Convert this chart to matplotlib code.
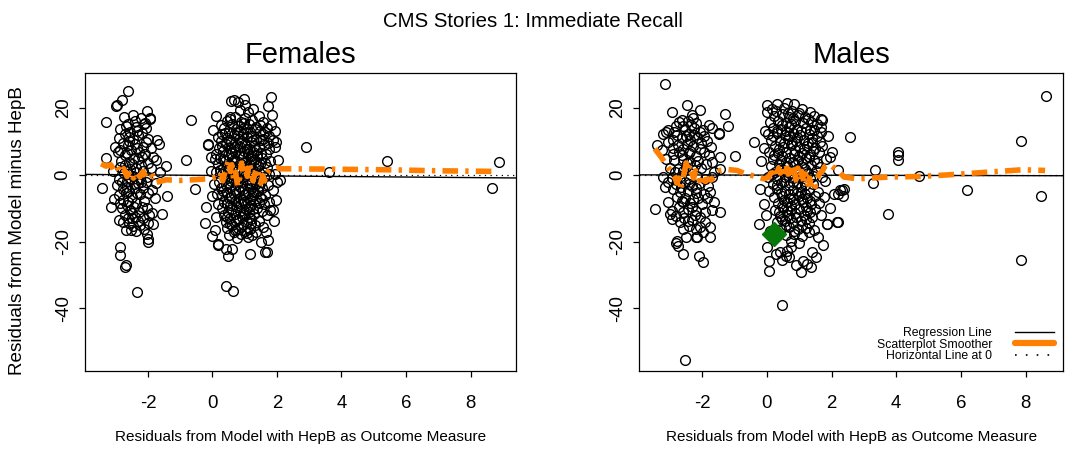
import matplotlib.pyplot as plt
from matplotlib.lines import Line2D

plt.rcParams['font.family'] = ['Liberation Sans', 'DejaVu Sans']
plt.rcParams['axes.unicode_minus'] = False

# -------------------------
# Data: (residual HepB model, residual outcome minus HepB)
# -------------------------

fem_left = [
    (-2.62, 25.1), (-2.81, 22.3), (-2.95, 21.0), (-3.00, 20.5), (-3.29, 15.8),
    (-2.02, 19.1), (-1.95, 17.0), (-2.08, 15.5), (-1.71, 10.3), (-1.67, 9.3),
    (-3.31, 5.1), (-1.45, 2.6), (-1.76, 4.3), (-3.43, -3.9), (-1.41, -6.4),
    (-3.14, -9.7), (-1.57, -11.9), (-2.91, -13.5), (-1.84, -14.9), (-2.48, -13.0),
    (-2.69, -16.5), (-2.52, -16.5), (-2.02, -17.9), (-1.99, -19.2), (-2.01, -20.2),
    (-2.88, -21.7), (-2.86, -24.0), (-2.67, -27.0), (-2.70, -27.7), (-2.33, -35.0),
    (-2.85, 13.8), (-2.36, 14.3), (-2.12, 15.3), (-2.05, 14.1), (-1.94, 16.8),
    (-2.62, 15.3), (-2.54, 12.8), (-2.20, 16.9), (-2.74, 17.4), (-2.47, 17.9),
    (-2.72, 12.3), (-2.31, 11.8), (-2.00, 10.8), (-2.45, 10.6), (-2.18, 12.6),
    (-2.91, 11.1), (-2.60, 11.2), (-3.03, 8.3), (-2.62, 8.8), (-2.41, 9.3),
    (-2.15, 8.3), (-2.78, 9.6), (-2.52, 7.4), (-2.27, 6.9), (-1.90, 8.1),
    (-2.06, 9.7), (-2.93, 6.8), (-2.10, 6.3), (-1.84, 5.3), (-2.70, 5.9),
    (-2.44, 5.1), (-2.60, 3.9), (-2.31, 4.6), (-1.99, 3.4), (-2.83, 4.2),
    (-2.18, 5.2), (-2.86, 2.4), (-2.55, 1.6), (-2.36, 2.1), (-2.14, 1.1),
    (-1.91, 1.9), (-2.74, 0.4), (-2.02, -0.6), (-1.62, 0.9), (-3.08, 1.2),
    (-2.47, -0.3), (-2.25, -0.9), (-2.80, -2.1), (-2.56, -1.4), (-2.31, -2.6),
    (-2.06, -2.1), (-1.76, -2.4), (-2.96, -3.1), (-2.64, -3.6), (-2.41, -4.1),
    (-2.16, -3.9), (-1.88, -4.6), (-2.90, -6.1), (-2.69, -5.4), (-2.49, -6.6),
    (-2.26, -5.9), (-2.01, -5.6), (-1.79, -7.1), (-2.61, -8.1), (-2.36, -8.4),
    (-2.11, -7.9), (-3.04, -7.4), (-2.78, -7.6), (-2.81, -9.9), (-2.56, -10.6),
    (-2.29, -11.1), (-2.04, -9.9), (-1.86, -11.4), (-2.70, -12.1), (-2.41, -12.6),
    (-2.14, -13.1), (-1.96, -12.0), (-2.87, -8.6), (-2.44, -9.6), (-2.59, -14.4),
    (-2.24, -15.1), (-2.00, -14.6), (-2.36, -17.0), (-2.76, -14.1), (-2.13, -16.3),
    (-2.68, 14.7), (-2.40, 16.0), (-2.58, 10.0), (-2.33, 13.2), (-2.85, 7.5),
    (-2.35, 8.0), (-2.65, 6.6), (-2.20, 3.0), (-2.48, 3.2), (-2.72, 2.9),
    (-2.62, 0.2), (-2.38, 0.8), (-2.90, -1.2), (-2.66, -1.9), (-2.44, -2.8),
    (-2.20, -2.2), (-2.58, -4.8), (-2.34, -5.4), (-2.76, -4.4), (-2.66, -9.2),
    (-2.18, -9.6), (-2.50, -11.6), (-2.30, -14.0), (-2.46, -15.3), (-2.62, -12.9),
]

fem_right = [
    (0.57, 22.0), (0.78, 21.8), (0.98, 22.8), (1.81, 23.3), (1.71, 20.6),
    (1.26, 19.6), (1.11, 18.8), (0.85, 19.3), (0.54, 17.3), (0.26, 14.8),
    (1.81, 14.8), (-0.13, 8.8), (0.18, 11.3), (1.88, 10.3), (1.93, 8.3),
    (-0.03, 5.3), (0.18, -21.0), (0.49, -24.4), (0.61, -22.2), (1.16, -23.7),
    (1.63, -23.0), (1.52, -20.2), (1.67, -17.2), (1.88, -10.7), (1.88, -4.7),
    (1.93, 0.3), (0.43, -33.2), (0.64, -34.7), (0.66, 22.5), (1.00, 20.8),
    (0.12, 6.3), (0.07, 4.8), (0.14, -5.7), (0.18, -8.7), (0.12, -12.7),
    (0.16, -20.7), (0.43, -22.2), (1.68, -23.2), (1.99, -2.2), (1.97, 9.8),
    (1.78, -10.7), (0.02, 13.5), (0.05, -2.8), (-0.02, -6.5), (0.08, -16.5),
    (1.95, 13.0), (2.02, 4.5), (1.97, -7.5), (1.92, -14.0), (0.10, 17.5),
    (1.85, 18.0), (0.00, -18.5), (1.72, -19.5),
    (0.70, 17.2), (1.02, 16.9), (1.43, 17.6), (0.46, 16.1), (0.88, 15.8),
    (1.24, 16.3), (1.58, 15.9), (0.61, 15.1), (0.79, 14.6), (1.12, 15.2),
    (1.49, 14.8), (0.36, 13.9), (0.72, 13.7), (0.97, 14.1), (1.31, 13.6),
    (1.69, 13.9), (0.51, 12.9), (0.86, 13.1), (1.16, 12.8), (1.46, 13.2),
    (0.29, 12.1), (0.66, 11.9), (0.94, 12.3), (1.21, 11.7), (1.56, 12.2),
    (1.76, 11.6), (0.44, 11.0), (0.81, 10.8), (1.06, 11.2), (1.36, 10.7),
    (0.26, 10.1), (0.59, 9.8), (0.91, 10.2), (1.19, 9.9), (1.51, 10.3),
    (1.71, 9.6), (0.41, 9.1), (0.76, 8.8), (1.01, 9.3), (1.29, 8.7),
    (1.61, 9.0), (0.21, 8.1), (0.56, 7.9), (0.84, 8.2), (1.14, 7.8),
    (1.44, 8.3), (1.74, 7.7), (0.34, 7.1), (0.69, 6.8), (0.99, 7.2),
    (1.26, 6.9), (0.49, 6.0), (0.82, 5.8), (1.11, 6.2), (1.39, 5.9),
    (1.66, 6.1), (0.24, 5.1), (0.61, 4.9), (0.94, 5.2), (1.21, 4.8),
    (1.54, 5.1), (0.39, 4.1), (0.74, 3.9), (1.04, 4.2), (1.34, 3.8),
    (1.79, 4.0), (0.16, 3.1), (0.54, 2.9), (0.89, 3.2), (1.16, 2.8),
    (1.49, 3.1), (0.33, 2.0), (0.71, 1.8), (1.01, 2.1), (1.31, 1.9),
    (1.69, 2.2), (0.11, 0.9), (0.49, 1.1), (0.86, 0.8), (1.19, 1.2),
    (1.56, 0.9), (0.29, 0.1), (0.64, -0.2), (0.96, 0.2), (1.39, -0.1),
    (1.76, 0.1), (0.46, -1.1), (0.79, -0.9), (1.09, -1.2), (1.61, -0.8),
    (0.21, -2.1), (0.59, -1.9), (0.91, -2.2), (1.24, -1.8), (1.51, -2.1),
    (0.41, -3.1), (0.76, -2.9), (1.06, -3.2), (1.36, -2.8), (1.71, -3.0),
    (0.26, -4.1), (0.56, -3.8), (0.94, -4.2), (1.19, -3.9), (1.54, -4.1),
    (0.44, -5.1), (0.81, -4.9), (1.11, -5.2), (1.41, -4.8), (0.31, -6.1),
    (0.66, -5.9), (1.01, -6.2), (1.26, -5.8), (1.64, -6.0), (0.51, -7.1),
    (0.86, -6.9), (1.16, -7.2), (1.49, -6.8), (0.36, -8.1), (0.71, -7.8),
    (0.99, -8.2), (1.31, -7.9), (1.74, -8.1), (0.54, -9.1), (0.89, -8.8),
    (1.21, -9.2), (1.59, -8.9), (0.31, -10.1), (0.76, -9.8), (1.04, -10.2),
    (1.39, -9.9), (0.49, -11.1), (0.84, -10.8), (1.14, -11.2), (1.54, -10.9),
    (0.36, -12.1), (0.69, -11.9), (0.99, -12.2), (1.29, -11.8), (1.69, -12.0),
    (0.56, -13.1), (0.91, -12.8), (1.21, -13.2), (0.41, -14.1), (0.74, -13.9),
    (1.06, -14.2), (1.44, -13.8), (0.61, -15.1), (0.96, -14.8), (1.31, -15.2),
    (0.46, -16.1), (0.79, -15.9), (1.16, -16.2), (1.56, -15.8), (0.66, -17.1),
    (1.01, -16.8), (1.36, -17.2), (0.51, -18.1), (0.89, -17.9), (1.24, -18.2),
    (0.76, -19.1), (1.11, -18.8),
    (0.55, 16.6), (0.98, 15.6), (1.35, 14.3), (0.40, 12.6), (0.75, 12.5),
    (1.08, 13.7), (1.62, 12.9), (0.50, 10.4), (0.88, 9.5), (1.25, 10.3),
    (1.58, 10.8), (0.30, 8.6), (0.68, 8.3), (1.06, 7.6), (1.36, 7.4),
    (0.58, 6.5), (0.92, 6.6), (1.20, 5.5), (1.50, 6.4), (0.32, 4.6),
    (0.68, 4.4), (0.98, 3.6), (1.28, 4.4), (1.62, 3.5), (0.44, 2.5),
    (0.80, 2.4), (1.10, 1.6), (1.42, 2.5), (0.22, 1.5), (0.58, 0.5),
    (0.90, 1.4), (1.30, 0.6), (0.38, -0.6), (0.72, -1.5), (1.02, -0.5),
    (1.34, -1.5), (0.50, -2.6), (0.84, -3.6), (1.16, -2.4), (1.45, -3.5),
    (0.34, -4.8), (0.70, -4.5), (1.02, -5.7), (1.30, -5.2), (0.58, -6.6),
    (0.94, -7.5), (1.22, -6.5), (1.55, -7.4), (0.44, -8.7), (0.80, -8.4),
    (1.12, -9.6), (1.44, -8.5), (0.62, -10.4), (0.94, -11.5), (1.26, -10.4),
    (0.46, -12.7), (0.80, -13.3), (1.12, -12.6), (0.54, -14.7), (0.88, -15.6),
    (1.20, -14.5), (0.70, -16.5), (1.06, -17.5),
]

fem_other = [
    (-0.81, 4.5), (-0.66, 16.5), (-0.55, -4.4), (-0.21, -9.7), (-0.24, -14.5),
    (-0.14, 9.1), (-0.05, 1.0), (2.09, -1.7), (2.89, 8.3), (3.61, 0.8),
    (5.42, 4.1), (8.88, 3.8), (8.67, -4.0),
]

male_left = [
    (-3.15, 27.1), (-2.47, 20.8), (-2.94, 18.8), (-2.32, 17.8), (-2.29, 17.1),
    (-2.06, 19.3), (-1.28, 18.3), (-1.20, 14.5), (-1.49, 12.5), (-2.81, 14.5),
    (-3.04, 13.3), (-3.22, 12.1), (-3.39, 8.8), (-3.25, 7.3), (-3.46, -10.2),
    (-2.99, -11.7), (-2.94, -13.2), (-2.60, -16.2), (-2.49, -18.7), (-2.81, -20.5),
    (-2.73, -21.2), (-2.58, -23.7), (-2.11, -24.4), (-1.98, -26.2), (-2.16, -18.7),
    (-1.75, -18.7), (-1.75, -15.7), (-2.53, -55.4),
    (-2.58, 14.6), (-1.80, 14.8), (-1.70, 14.0), (-1.47, 12.3), (-3.10, 12.8),
    (-2.91, 10.3), (-2.39, 12.3), (-2.08, 12.8), (-1.85, 10.0), (-2.89, 6.3),
    (-2.58, 7.8), (-2.06, 7.6), (-1.80, 5.8), (-1.44, 5.3), (-1.70, 3.8),
    (-1.44, 1.8), (-3.15, -3.7), (-2.89, -4.2), (-2.68, -5.2), (-3.04, -8.2),
    (-2.94, -11.0), (-2.58, -8.2), (-2.32, -9.7), (-2.01, -8.7), (-1.75, -5.2),
    (-1.63, -8.2), (-1.44, -11.2), (-1.90, -14.2), (-2.06, -15.7), (-2.19, -18.7),
    (-2.79, -19.8),
    (-2.72, 15.8), (-2.45, 16.2), (-2.18, 15.6), (-2.52, 13.3), (-2.25, 14.1),
    (-1.96, 13.4), (-2.78, 11.8), (-2.62, 10.9), (-2.36, 10.4), (-2.15, 11.0),
    (-1.93, 11.7), (-3.05, 9.9), (-2.76, 8.9), (-2.48, 9.2), (-2.27, 8.6),
    (-2.02, 9.6), (-1.72, 8.4), (-2.70, 6.9), (-2.42, 6.5), (-2.19, 5.7),
    (-1.95, 6.8), (-3.12, 4.6), (-2.86, 4.3), (-2.60, 4.8), (-2.36, 3.7),
    (-2.12, 4.1), (-1.88, 3.2), (-3.00, 2.1), (-2.73, 1.7), (-2.49, 2.4),
    (-2.27, 1.3), (-2.03, 1.9), (-1.62, 0.8), (-3.20, -0.6), (-2.92, -0.9),
    (-2.66, -0.3), (-2.40, -1.2), (-2.16, -0.5), (-1.92, -1.4), (-1.70, -0.8),
    (-3.06, -2.3), (-2.80, -2.8), (-2.53, -2.1), (-2.30, -3.3), (-2.06, -2.6),
    (-1.82, -3.4), (-2.45, -4.8), (-2.20, -5.6), (-1.95, -5.9), (-2.78, -6.6),
    (-2.52, -6.9), (-2.28, -7.4), (-1.85, -7.0), (-2.70, -9.6), (-2.45, -10.3),
    (-2.18, -10.8), (-1.92, -11.3), (-1.68, -10.6), (-2.82, -12.4), (-2.55, -12.9),
    (-2.30, -13.6), (-2.05, -12.7), (-2.42, -15.3), (-2.20, -16.4), (-1.96, -17.2),
    (-2.68, -14.3),
    (-2.62, 16.5), (-2.35, 15.0), (-2.88, 12.9), (-2.50, 11.5), (-2.25, 12.0),
    (-2.90, 8.0), (-2.36, 7.2), (-2.62, 5.8), (-2.46, 3.6), (-2.22, 2.8),
    (-2.85, 0.7), (-2.58, 1.0), (-2.42, -2.9), (-2.66, -3.8), (-2.18, -3.9),
    (-2.62, -7.8), (-2.38, -8.6), (-2.12, -7.1), (-2.58, -11.3), (-2.22, -12.2),
    (-2.44, -13.8),
]

male_right = [
    (0.00, 20.8), (0.30, 21.1), (0.61, 21.5), (0.84, 21.3), (0.00, 18.8),
    (1.72, 16.3), (1.67, 14.3), (2.03, 6.8), (1.96, 5.3), (2.08, -5.7),
    (2.27, -4.7), (1.86, -14.7), (1.57, -18.7), (1.31, -17.2), (1.05, -29.2),
    (1.36, -27.7), (2.18, -14.2), (1.69, 16.8), (1.65, 9.8), (1.67, 12.8),
    (2.21, 1.3), (2.31, -4.7), (2.34, -6.5), (2.19, -5.9), (2.39, -4.2),
    (2.21, -14.2), (1.85, -14.9), (0.06, -25.7), (0.06, -28.7), (0.48, -38.9),
    (0.42, -23.2), (0.58, -24.2), (0.68, -24.7), (0.89, -27.0), (0.27, -23.7),
    (0.63, -22.7), (0.74, -21.7), (0.48, -25.6), (1.13, -25.7), (1.25, -26.7),
    (1.41, -23.2), (1.52, -24.7), (0.01, -21.7), (-0.05, 13.0), (-0.10, 8.0),
    (1.90, 11.5), (1.95, -10.0), (1.80, -1.8), (-0.02, -12.0), (0.10, -17.0),
    (1.75, -21.0),
    (0.15, 19.6), (0.52, 19.9), (0.78, 19.2), (1.08, 19.8), (1.32, 18.9),
    (0.22, 17.6), (0.46, 18.1), (0.70, 17.4), (0.95, 17.9), (1.19, 17.2),
    (1.45, 17.7), (0.10, 15.8), (0.36, 16.2), (0.60, 15.5), (0.86, 16.0),
    (1.11, 15.4), (1.36, 15.9), (1.56, 15.1), (0.18, 14.1), (0.43, 13.6),
    (0.68, 14.3), (0.93, 13.8), (1.21, 14.0), (1.47, 13.5), (0.05, 12.2),
    (0.30, 12.5), (0.55, 11.9), (0.80, 12.4), (1.03, 11.8), (1.29, 12.3),
    (1.55, 11.7), (0.14, 10.4), (0.40, 10.0), (0.65, 10.6), (0.90, 10.1),
    (1.15, 10.5), (1.40, 9.9), (0.24, 8.6), (0.50, 8.2), (0.75, 8.8),
    (1.00, 8.3), (1.25, 8.7), (1.50, 8.1), (1.72, 8.5), (0.08, 6.7),
    (0.34, 6.4), (0.60, 6.9), (0.85, 6.2), (1.10, 6.6), (1.35, 6.1),
    (1.60, 6.8), (0.20, 4.8), (0.45, 4.4), (0.70, 5.0), (0.95, 4.5),
    (1.20, 4.9), (1.45, 4.3), (1.82, 4.6), (0.12, 2.7), (0.38, 3.1),
    (0.63, 2.5), (0.88, 3.0), (1.13, 2.4), (1.38, 2.9), (1.64, 2.3),
    (0.26, 0.9), (0.51, 1.3), (0.76, 0.6), (1.01, 1.1), (1.26, 0.5),
    (1.52, 1.0), (0.04, -0.8), (0.32, -1.2), (0.57, -0.6), (0.82, -1.1),
    (1.07, -0.5), (1.32, -1.0), (1.70, -0.7), (0.18, -2.9), (0.44, -2.5),
    (0.69, -3.1), (0.94, -2.6), (1.19, -3.2), (1.44, -2.7), (0.06, -4.8),
    (0.30, -4.4), (0.56, -5.0), (0.81, -4.5), (1.06, -5.1), (1.31, -4.6),
    (1.58, -5.2), (0.22, -6.7), (0.48, -6.3), (0.73, -6.9), (0.98, -6.4),
    (1.23, -7.0), (1.49, -6.5), (1.76, -6.8), (0.36, -8.6), (0.61, -8.2),
    (0.86, -8.8), (1.11, -8.3), (1.36, -8.9), (1.62, -8.4), (0.25, -10.5),
    (0.50, -10.1), (0.75, -10.7), (1.00, -10.2), (1.25, -10.8), (1.50, -10.3),
    (0.40, -12.4), (0.65, -12.0), (0.90, -12.6), (1.15, -12.1), (1.40, -12.7),
    (1.68, -12.2), (0.30, -14.3), (0.55, -13.9), (0.80, -14.5), (1.05, -14.0),
    (1.30, -14.6), (0.45, -16.2), (0.70, -15.8), (0.95, -16.4), (1.20, -15.9),
    (1.46, -16.5), (0.60, -18.1), (0.85, -17.7), (1.10, -18.3), (0.75, -19.8),
    (1.00, -20.3),
    (0.28, 19.0), (0.64, 18.6), (1.00, 18.4), (0.82, 17.0), (0.48, 15.0),
    (0.74, 15.2), (1.26, 16.6), (0.30, 13.2), (0.58, 13.0), (1.06, 13.0),
    (1.34, 13.4), (0.20, 11.6), (0.68, 11.5), (0.94, 11.4), (1.40, 11.1),
    (0.52, 9.6), (0.78, 9.4), (1.28, 9.6), (0.38, 7.6), (0.88, 7.4),
    (1.14, 7.8), (1.42, 7.2), (0.22, 5.8), (0.48, 5.6), (0.98, 5.6),
    (1.30, 5.2), (0.58, 3.8), (0.82, 3.7), (1.08, 3.6), (1.56, 3.6),
    (0.40, 2.0), (0.92, 1.8), (1.18, 1.6), (0.16, 0.2), (0.66, -0.2),
    (1.16, -1.8), (1.42, -0.3), (0.52, -2.0), (0.80, -2.3), (1.06, -3.8),
    (0.32, -3.2), (0.44, -5.5), (0.68, -5.8), (0.92, -5.4), (1.18, -5.8),
    (0.54, -7.6), (0.82, -7.4), (1.08, -7.2), (1.32, -7.8), (0.46, -9.4),
    (0.74, -9.3), (1.20, -9.6), (0.38, -11.3), (0.62, -11.0), (0.88, -11.4),
    (1.34, -11.3), (0.46, -13.2), (0.72, -13.0), (1.20, -13.4), (0.60, -15.0),
    (1.08, -15.2), (0.84, -16.8),
]

male_other = [
    (-0.97, 5.5), (-0.40, 9.8), (-0.18, 4.1), (-0.20, -4.2), (-0.09, -8.7),
    (-0.25, -14.7), (2.57, 11.3), (4.05, 6.8), (4.07, 5.8), (4.07, 4.3),
    (3.35, 1.3), (3.27, -2.4), (4.70, -0.3), (6.18, -4.5), (8.47, -6.3),
    (3.74, -11.7), (7.85, -25.5), (7.86, 10.1), (8.63, 23.6),
]

# highlighted case in the male panel
flag_x = [0.22]
flag_y = [-17.8]

# scatterplot smoothers
fem_smooth_x = [-3.45, -3.30, -3.15, -3.05, -2.95, -2.85, -2.75, -2.65, -2.55,
                -2.45, -2.35, -2.25, -2.15, -2.05, -1.95, -1.85, -1.75, -1.43,
                -1.01, -0.60, -0.13, 0.10, 0.18, 0.25, 0.32, 0.38, 0.44, 0.50,
                0.55, 0.60, 0.66, 0.72, 0.78, 0.84, 0.90, 0.96, 1.02, 1.08,
                1.14, 1.20, 1.26, 1.32, 1.38, 1.44, 1.50, 1.56, 1.62, 1.68,
                1.75, 1.83, 1.99, 2.09, 3.50, 5.40, 7.00, 8.82]
fem_smooth_y = [3.3, 2.6, 3.0, 1.2, 2.4, 0.5, 1.8, -0.5, 1.2,
                -1.0, 0.8, -0.6, 1.0, -0.8, -1.5, -0.4, -2.3, -1.5,
                -1.7, -1.5, -1.2, -0.7, -1.5, -0.3, -1.8, 0.5, 2.5, 4.3,
                1.0, 3.0, -1.5, 0.8, -3.5, -1.0, 3.5, 0.2, 2.8, -0.5,
                3.8, 1.0, -1.8, 0.5, 2.0, -0.8, -2.5, -0.2, -1.8, 0.3,
                1.2, 1.8, 2.2, 1.8, 1.7, 1.5, 1.2, 1.0]

male_smooth_x = [-3.46, -3.25, -3.10, -2.94, -2.84, -2.78, -2.72, -2.66, -2.60,
                 -2.55, -2.49, -2.43, -2.38, -2.32, -2.26, -2.20, -2.14, -2.08,
                 -2.02, -1.96, -1.90, -1.82, -1.72, -1.60, -1.44, -1.23, -0.92,
                 -0.66, -0.35, -0.09, 0.06, 0.12, 0.18, 0.24, 0.30, 0.36, 0.42,
                 0.48, 0.54, 0.60, 0.66, 0.72, 0.78, 0.84, 0.90, 0.96, 1.02,
                 1.08, 1.14, 1.20, 1.26, 1.32, 1.38, 1.44, 1.50, 1.56, 1.64,
                 1.72, 1.80, 1.90, 1.98, 2.24, 2.39, 2.81, 3.74, 4.77, 5.81,
                 6.84, 7.88, 8.60]
male_smooth_y = [7.8, 5.1, 2.8, 0.8, -0.7, -2.5, -1.0, -3.8, -1.5,
                 0.8, 3.5, 1.5, 3.0, 0.5, -1.0, 1.2, -0.5, -1.8,
                 -0.3, -1.5, -2.0, -1.2, -1.6, -0.4, 1.3, 1.6, 1.3,
                 0.3, -0.5, -1.2, -0.7, 0.5, -1.0, 1.3, -0.2, 2.0, 0.5,
                 2.8, 1.0, 3.0, 0.2, 2.6, -0.8, 1.5, -1.5, 2.0, -0.5,
                 1.0, -2.0, 0.2, -2.8, -1.0, -3.8, -2.5, -3.5, -1.0, 0.5,
                 1.2, 2.6, 3.2, 2.8, 0.8, -0.7, -1.2, -0.7, -0.5, 0.1,
                 0.8, 1.5, 1.3]

# regression lines: intercept, slope
fem_reg = (-0.2, -0.08)
male_reg = (-0.1, -0.02)

x_ticks = [-2, 0, 2, 4, 6, 8]
y_ticks = [20, 0, -20, -40]

orange = '#FF7F00'

fig = plt.figure(figsize=(10.65, 4.53), dpi=100)
ax1 = fig.add_axes([0.0798, 0.1819, 0.4044, 0.6576])
ax2 = fig.add_axes([0.6003, 0.1819, 0.3977, 0.6576])


def draw_panel(ax, groups, sx, sy, reg, xlim, title):
    for pts in groups:
        ax.plot([p[0] for p in pts], [p[1] for p in pts], 'o', mfc='none',
                mec='black', ms=7, mew=1.0, zorder=2)
    ax.axline((0, reg[0]), slope=reg[1], color='black', lw=1, zorder=3)
    ax.plot(sx, sy, color=orange, lw=4, ls=(0, (2.8, 1.3, 0.6, 1.3)), zorder=4)
    ax.axhline(0, color='black', lw=0.9, ls=(0, (1, 3.5)), zorder=3)

    ax.set_xlim(xlim)
    ax.set_ylim(-58.7, 30.6)
    ax.set_xticks(x_ticks)
    ax.set_xticklabels([str(t) for t in x_ticks])
    ax.set_yticks(y_ticks)
    ax.set_yticklabels([str(t) for t in y_ticks], rotation=90, va='center')
    ax.tick_params(direction='out', length=4.3, width=0.9, labelsize=13.4)
    ax.tick_params(axis='x', pad=13.3)
    ax.tick_params(axis='y', pad=5.3)
    for s in ax.spines.values():
        s.set_linewidth(0.9)
    ax.set_title(title, fontsize=21, pad=7)
    ax.set_xlabel('Residuals from Model with HepB as Outcome Measure',
                  fontsize=11, labelpad=13)


draw_panel(ax1, [fem_left, fem_right, fem_other], fem_smooth_x, fem_smooth_y,
           fem_reg, (-3.95, 9.4), 'Females')
draw_panel(ax2, [male_left, male_right, male_other], male_smooth_x, male_smooth_y,
           male_reg, (-3.94, 9.15), 'Males')

ax2.plot(flag_x, flag_y, 'D', color='#087808', ms=12.5, zorder=5)

handles = [
    Line2D([], [], color='black', lw=1),
    Line2D([], [], color=orange, lw=4.5, solid_capstyle='round'),
    Line2D([], [], color='black', lw=1.2, ls=(0, (1, 5.5))),
]
ax2.legend(handles, ['Regression Line', 'Scatterplot Smoother', 'Horizontal Line at 0'],
           loc='lower right', frameon=False, markerfirst=False, fontsize=8.8,
           handlelength=3.2, handletextpad=1.9, labelspacing=-0.05,
           borderpad=0, borderaxespad=0.7)

fig.text(0.5, 1 - 27.3 / 453, 'CMS Stories 1: Immediate Recall', ha='center',
         va='baseline', fontsize=14.7)
fig.text(18 / 1065, 0.49, 'Residuals from Model minus HepB', rotation=90,
         ha='center', va='center', fontsize=13.6)

fig.savefig('out.png', dpi=100)
